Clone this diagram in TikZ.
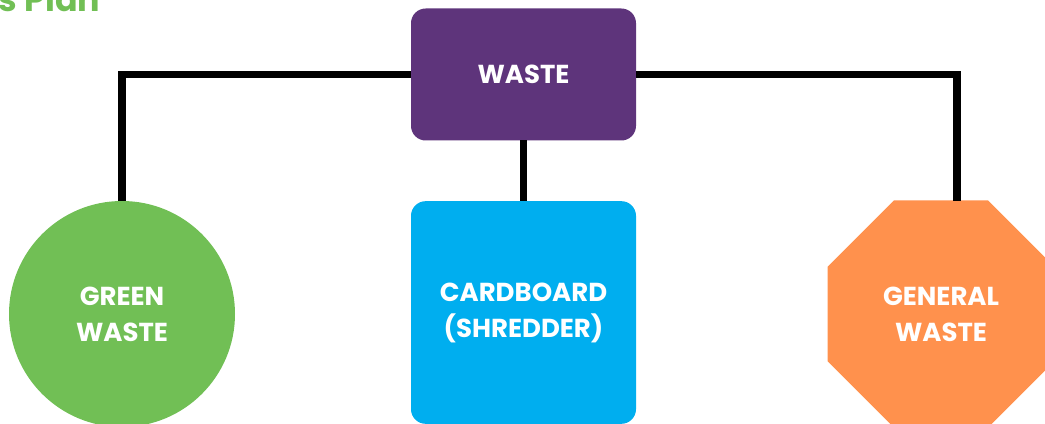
\documentclass[tikz,border=0pt]{standalone}
\usepackage{fontspec}
\setmainfont{Poppins}
\usetikzlibrary{shapes.geometric}

\definecolor{wastepurple}{HTML}{5E347B}
\definecolor{cardblue}{HTML}{00AEEF}
\definecolor{greenbin}{HTML}{71BF55}
\definecolor{generalorange}{HTML}{FF914D}

\begin{document}
\begin{tikzpicture}[x=0.75pt,y=-0.75pt,
        bin/.style={text=white,font=\bfseries\fontsize{19.5}{27}\selectfont,align=center,inner sep=0pt,outer sep=0pt},
        box/.style={bin,rounded corners=11pt,minimum width=168.75pt},
        link/.style={line width=5.8pt,black}]
        \useasboundingbox (0,0) rectangle (1045,424);

        % heading, mostly above the page
        \node[anchor=base east,text=greenbin,font=\bfseries\fontsize{25}{30}\selectfont] (title) at (105,12) {s Plan};

        \node[box,fill=wastepurple,minimum height=99pt] (waste) at (523.5,74.5) {WASTE};
        \node[bin,circle,fill=greenbin,minimum size=169.5pt] (green) at (122,314) {GREEN\\WASTE};
        \node[box,fill=cardblue,minimum height=167pt] (cardboard) at (523.5,312.5) {CARDBOARD\\(SHREDDER)};
        \node[bin,regular polygon,regular polygon sides=8,fill=generalorange,minimum size=184.3pt] (general) at (941,314) {GENERAL\\WASTE};

        % the right line meets the octagon off centre
        \coordinate (gentop) at (957,201);

        \draw[link] (waste.west) -| (green.north);
        \draw[link] (waste.east) -| (gentop);
        \draw[link] (waste.south) -- (cardboard.north);

\end{tikzpicture}
\end{document}
